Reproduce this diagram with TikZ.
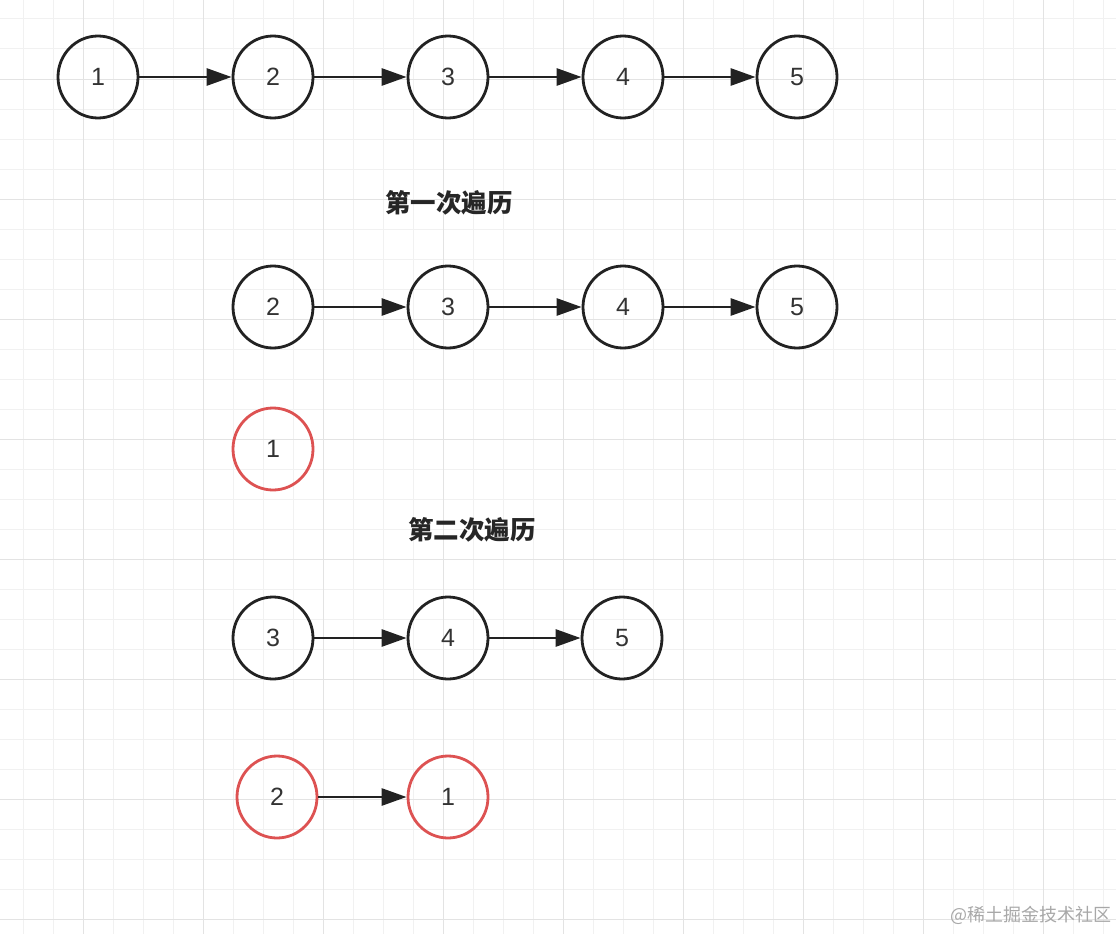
\documentclass[tikz,border=0pt]{standalone}
\usepackage{fontspec}
\setmainfont{Liberation Sans}
\newfontfamily\cjk{Noto Sans CJK SC}
\usetikzlibrary{arrows.meta,shapes.geometric}
\definecolor{gridminor}{HTML}{F1F1F1}
\definecolor{gridmajor}{HTML}{E3E3E3}
\definecolor{nodeline}{HTML}{222222}
\definecolor{popred}{HTML}{DD5252}
\definecolor{marktext}{HTML}{A8A8A8}
\tikzset{
	listnode/.style={ellipse, draw=nodeline, line width=2.8pt, minimum width=80pt, minimum height=82pt, inner sep=0pt, font=\fontsize{25}{25}\selectfont, text=black!80},
	popnode/.style={listnode, draw=popred},
	link/.style={draw=nodeline, line width=2.8pt, -{Triangle[length=25pt,width=17pt]}},
	steptitle/.style={font=\cjk\bfseries\fontsize{25.5}{25.5}\selectfont, text=black!85},
}
\begin{document}
\begin{tikzpicture}[x=1pt,y=-1pt]
	\fill[white] (0,0) rectangle (1116,934);
	\useasboundingbox (0,0) rectangle (1116,934);
	% grid
	\foreach \x in {23,53,...,1103} \draw[gridminor, line width=1pt] (\x,0) -- (\x,934);
	\foreach \y in {19,49,...,919} \draw[gridminor, line width=1pt] (0,\y) -- (1116,\y);
	\foreach \x in {83,203,...,1043} \draw[gridmajor, line width=1pt] (\x,0) -- (\x,934);
	\foreach \y in {79,199,...,919} \draw[gridmajor, line width=1pt] (0,\y) -- (1116,\y);
	% start
	\node[listnode] (a1) at (98,77) {1};
	\node[listnode] (a2) at (273,77) {2};
	\node[listnode] (a3) at (448,77) {3};
	\node[listnode] (a4) at (623,77) {4};
	\node[listnode] (a5) at (797,77) {5};
	\draw[link] (a1) -- (a2);
	\draw[link] (a2) -- (a3);
	\draw[link] (a3) -- (a4);
	\draw[link] (a4) -- (a5);
	% first pass
	\node[steptitle] (t1) at (449,203) {第一次遍历};
	\node[listnode] (b2) at (273,307) {2};
	\node[listnode] (b3) at (448,307) {3};
	\node[listnode] (b4) at (623,307) {4};
	\node[listnode] (b5) at (797,307) {5};
	\draw[link] (b2) -- (b3);
	\draw[link] (b3) -- (b4);
	\draw[link] (b4) -- (b5);
	\node[popnode] (r1) at (273,449) {1};
	% second pass
	\node[steptitle] (t2) at (472,530) {第二次遍历};
	\node[listnode] (c3) at (273,638) {3};
	\node[listnode] (c4) at (448,638) {4};
	\node[listnode] (c5) at (622,638) {5};
	\draw[link] (c3) -- (c4);
	\draw[link] (c4) -- (c5);
	\node[popnode] (s2) at (277,797) {2};
	\node[popnode] (s1) at (448,797) {1};
	\draw[link] (s2) -- (s1);
	% watermark
	\node[font=\cjk\fontsize{18}{18}\selectfont, text=marktext] (mark) at (1031,915) {@稀土掘金技术社区};
\end{tikzpicture}
\end{document}
